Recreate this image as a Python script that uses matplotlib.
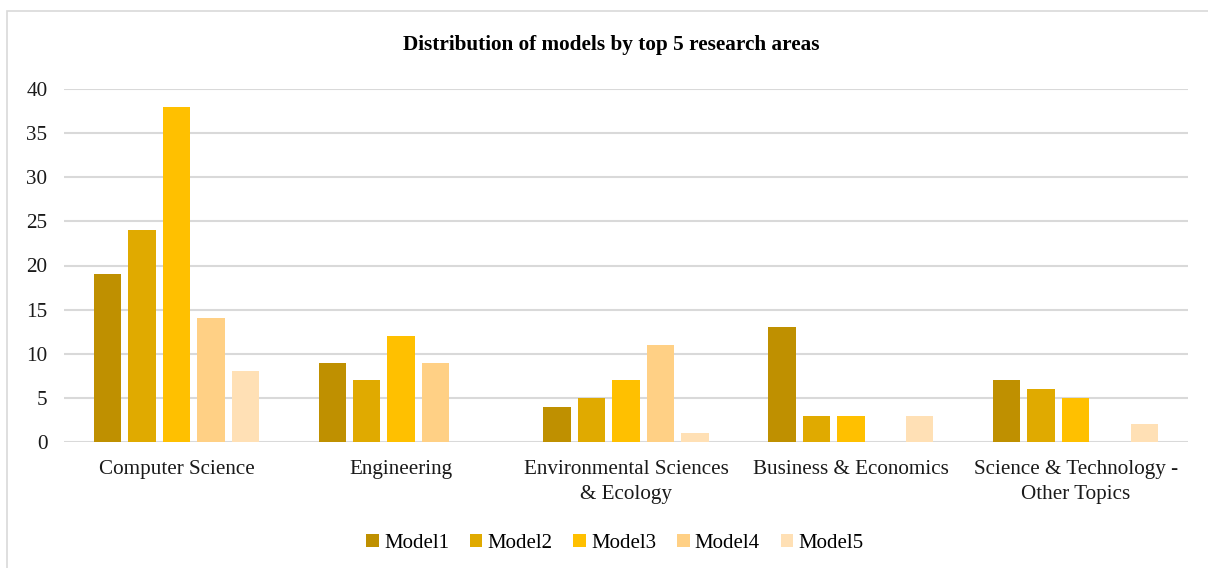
import numpy as np
from matplotlib import pyplot as plt
from matplotlib.patches import Rectangle

plt.rcParams['font.family'] = ['Liberation Serif', 'DejaVu Serif']

# research areas and counts of models per area
areas = ['Computer Science', 'Engineering', 'Environmental Sciences\n& Ecology',
         'Business & Economics', 'Science & Technology -\nOther Topics']
model_names = ['Model1', 'Model2', 'Model3', 'Model4', 'Model5']
model1 = [19, 9, 4, 13, 7]
model2 = [24, 7, 5, 3, 6]
model3 = [38, 12, 7, 3, 5]
model4 = [14, 9, 11, 0, 0]
model5 = [8, 0, 1, 3, 2]
colors = ['#BF9000', '#E0AA00', '#FFC000', '#FFD085', '#FFE0B5']

fig = plt.figure(figsize=(12.08, 5.68), dpi=100)
ax = fig.add_axes([64 / 1208, 1 - 442 / 568, 1124 / 1208, 353 / 568])

# light grey frame around the whole chart, like the exported excel chart
fig.patches.append(Rectangle((7 / 1208, -0.01), 1.1, 1 - 11 / 568 + 0.01,
                             transform=fig.transFigure, fill=False,
                             edgecolor='#D9D9D9', linewidth=1.2))

x = np.arange(len(areas))
step = 0.1533
width = 0.122
series = [model1, model2, model3, model4, model5]
for i, (vals, name, col) in enumerate(zip(series, model_names, colors)):
    ax.bar(x + (i - 2) * step, vals, width=width, color=col, label=name,
           linewidth=0, zorder=3)

ax.set_xlim(-0.5, 4.5)
ax.set_ylim(0, 40)
ax.set_yticks(range(0, 41, 5))
ax.set_xticks(x)
ax.set_xticklabels(areas, fontsize=15.2, linespacing=1.45)
ax.tick_params(axis='both', length=0, colors='#1A1A1A')
ax.tick_params(axis='y', pad=12, labelsize=15.2)
ax.tick_params(axis='x', pad=13)
ax.grid(axis='y', color='#D9D9D9', linewidth=1.5, zorder=0)
for s in ax.spines.values():
    s.set_visible(False)

fig.text(611 / 1208, 1 - 45 / 568, 'Distribution of models by top 5 research areas',
         ha='center', va='center', fontsize=15.3, fontweight='bold')

fig.legend(loc='center', bbox_to_anchor=(615 / 1208, 1 - 543 / 568), ncol=5,
           frameon=False, fontsize=15, handlelength=0.6, handleheight=0.6,
           handletextpad=0.25, columnspacing=1.0)

fig.savefig('out.png', dpi=100)
